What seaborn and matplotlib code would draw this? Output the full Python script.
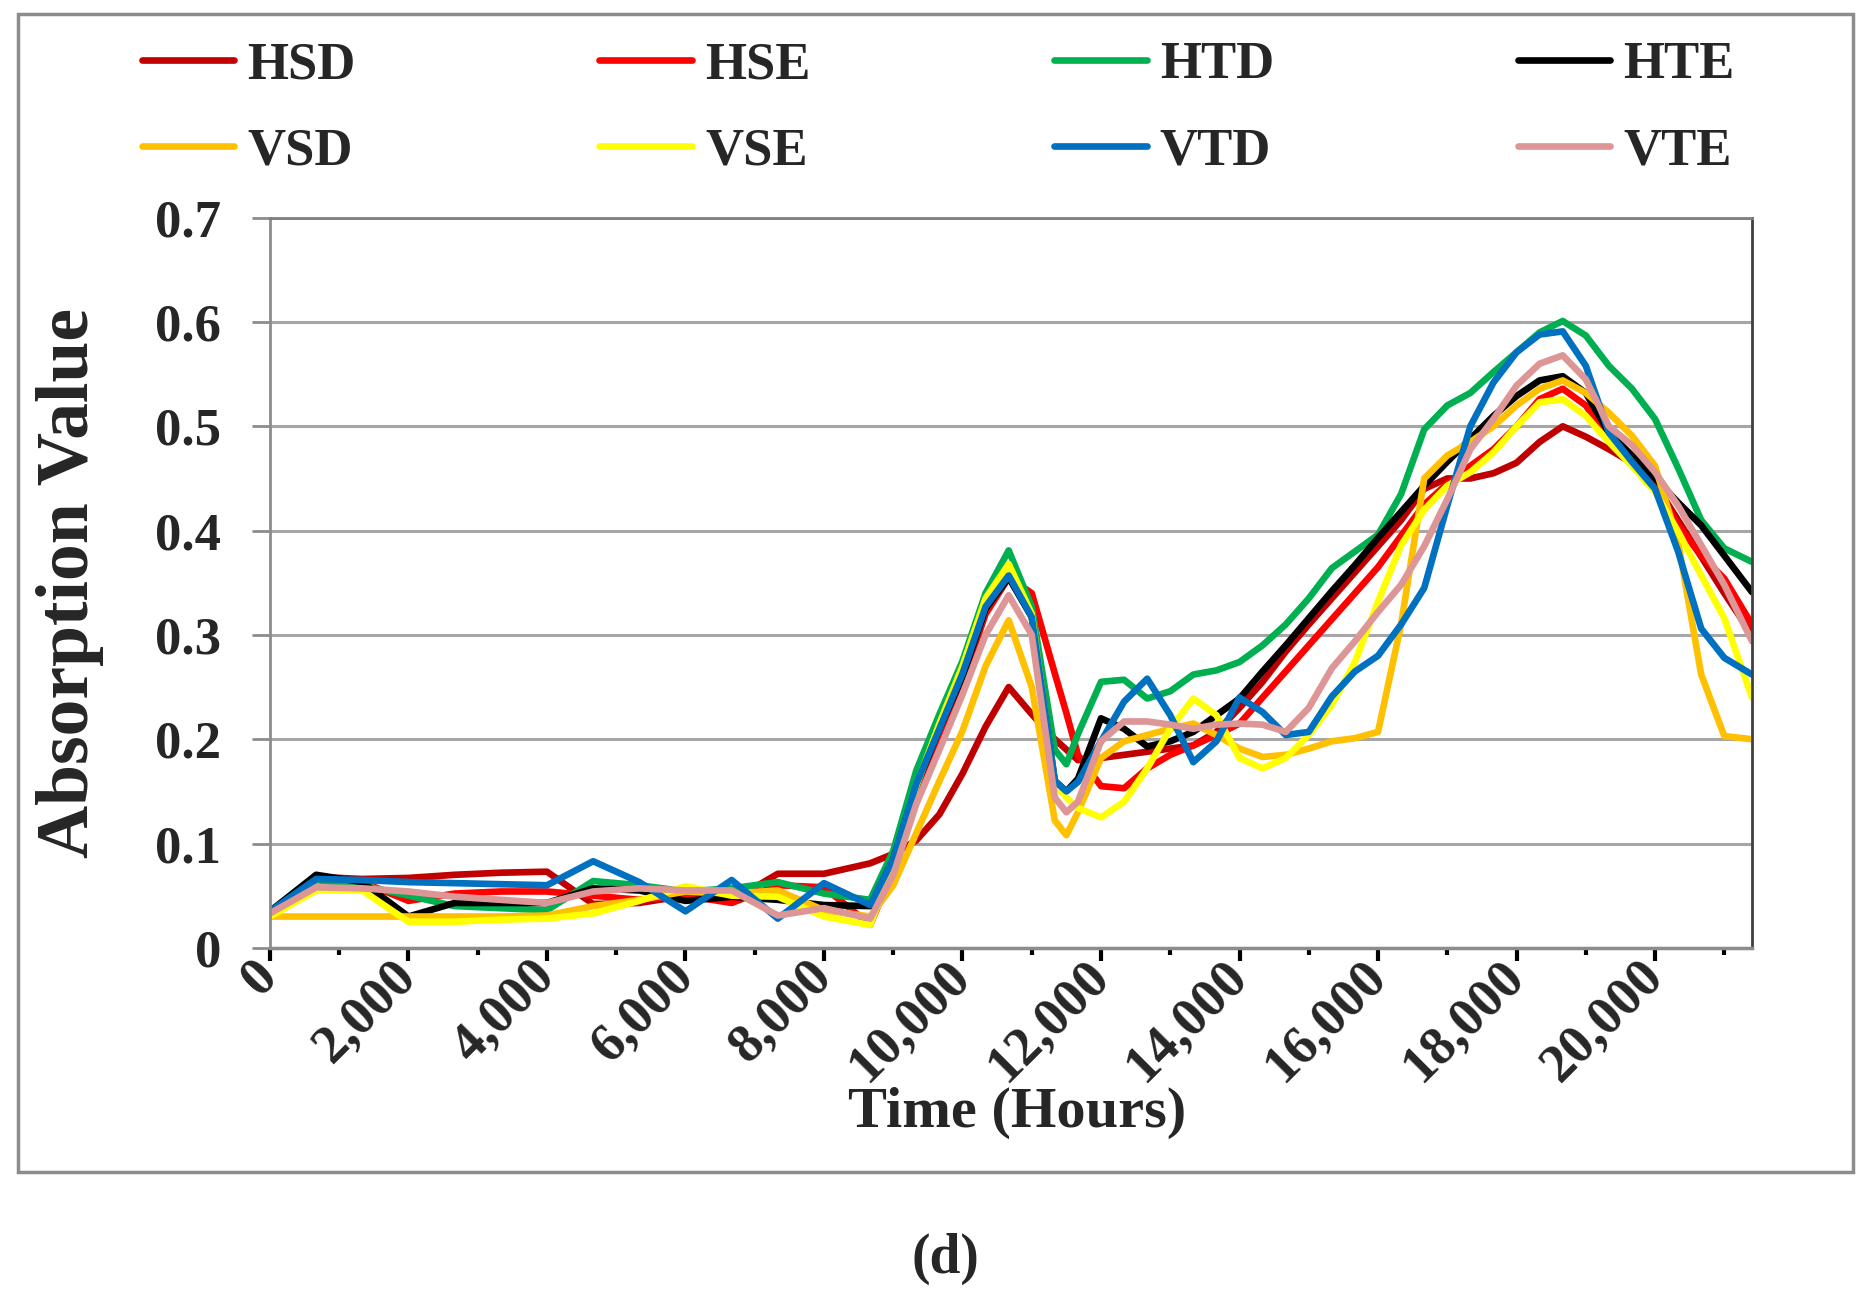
import pandas as pd
import numpy as np
import matplotlib.pyplot as plt
import matplotlib.ticker as mticker
from matplotlib.lines import Line2D
from matplotlib.patches import Rectangle
import seaborn as sns

# time points (hours)
hours = [0, 667, 1333, 2000, 2667, 3333, 4000, 4667, 5333, 6000, 6667, 7333, 8000, 8667,
         9000, 9333, 9667, 10000, 10333, 10667, 11000, 11333, 11500, 11667,
         12000, 12333, 12667, 13000, 13333, 13667, 14000, 14333, 14667, 15000, 15333, 15667,
         16000, 16333, 16667, 17000, 17333, 17667, 18000, 18333, 18667, 19000, 19333, 19667,
         20000, 20333, 20667, 21000, 21400]

hsd = [0.035, 0.068, 0.066, 0.067, 0.070, 0.072, 0.073, 0.042, 0.043, 0.050, 0.045, 0.071, 0.071, 0.081,
       0.090, 0.103, 0.128, 0.167, 0.212, 0.250, 0.224, 0.200, 0.190, 0.180,
       0.182, 0.185, 0.188, 0.191, 0.194, 0.207, 0.230, 0.255, 0.284, 0.310, 0.335, 0.360,
       0.385, 0.410, 0.440, 0.450, 0.450, 0.455, 0.465, 0.485, 0.500, 0.490, 0.478, 0.465,
       0.445, 0.410, 0.375, 0.340, 0.300]
hse = [0.035, 0.066, 0.063, 0.045, 0.052, 0.054, 0.054, 0.050, 0.046, 0.050, 0.043, 0.060, 0.058, 0.022,
       0.075, 0.145, 0.200, 0.255, 0.320, 0.355, 0.340, 0.263, 0.225, 0.185,
       0.155, 0.153, 0.172, 0.185, 0.194, 0.204, 0.215, 0.240, 0.265, 0.290, 0.315, 0.340,
       0.365, 0.395, 0.425, 0.445, 0.462, 0.478, 0.500, 0.526, 0.536, 0.520, 0.488, 0.469,
       0.443, 0.405, 0.376, 0.354, 0.310]
htd = [0.035, 0.065, 0.060, 0.050, 0.040, 0.038, 0.036, 0.064, 0.060, 0.054, 0.057, 0.063, 0.052, 0.046,
       0.093, 0.170, 0.224, 0.275, 0.340, 0.381, 0.327, 0.190, 0.176, 0.205,
       0.255, 0.257, 0.239, 0.246, 0.262, 0.266, 0.274, 0.290, 0.310, 0.335, 0.364, 0.380,
       0.396, 0.435, 0.497, 0.520, 0.532, 0.552, 0.571, 0.590, 0.601, 0.587, 0.558, 0.536,
       0.507, 0.460, 0.410, 0.383, 0.370]
hte = [0.035, 0.070, 0.063, 0.030, 0.043, 0.043, 0.043, 0.057, 0.055, 0.045, 0.049, 0.046, 0.041, 0.040,
       0.085, 0.155, 0.210, 0.260, 0.325, 0.355, 0.317, 0.160, 0.150, 0.162,
       0.220, 0.210, 0.193, 0.198, 0.207, 0.223, 0.239, 0.265, 0.290, 0.316, 0.342, 0.367,
       0.393, 0.418, 0.443, 0.466, 0.488, 0.510, 0.529, 0.544, 0.548, 0.532, 0.494, 0.472,
       0.450, 0.427, 0.405, 0.376, 0.341]
vsd = [0.030, 0.030, 0.030, 0.030, 0.030, 0.030, 0.031, 0.040, 0.046, 0.054, 0.052, 0.055, 0.036, 0.030,
       0.060, 0.110, 0.160, 0.208, 0.270, 0.314, 0.250, 0.122, 0.108, 0.130,
       0.182, 0.198, 0.204, 0.210, 0.215, 0.204, 0.191, 0.183, 0.185, 0.191, 0.198, 0.201,
       0.207, 0.310, 0.450, 0.472, 0.485, 0.500, 0.520, 0.536, 0.544, 0.532, 0.513, 0.491,
       0.462, 0.389, 0.262, 0.203, 0.200]
vse = [0.030, 0.055, 0.055, 0.025, 0.025, 0.027, 0.028, 0.033, 0.045, 0.059, 0.050, 0.049, 0.030, 0.022,
       0.080, 0.155, 0.215, 0.270, 0.335, 0.368, 0.320, 0.157, 0.144, 0.134,
       0.125, 0.140, 0.172, 0.210, 0.239, 0.223, 0.182, 0.172, 0.182, 0.204, 0.233, 0.274,
       0.332, 0.386, 0.420, 0.443, 0.456, 0.475, 0.500, 0.523, 0.526, 0.510, 0.485, 0.462,
       0.437, 0.399, 0.357, 0.316, 0.240]
vtd = [0.035, 0.066, 0.065, 0.063, 0.062, 0.061, 0.060, 0.083, 0.063, 0.035, 0.065, 0.028, 0.062, 0.041,
       0.085, 0.157, 0.210, 0.263, 0.327, 0.357, 0.317, 0.160, 0.150, 0.159,
       0.198, 0.236, 0.258, 0.223, 0.178, 0.198, 0.240, 0.226, 0.204, 0.207, 0.241, 0.265,
       0.280, 0.310, 0.345, 0.424, 0.500, 0.542, 0.571, 0.588, 0.591, 0.558, 0.494, 0.466,
       0.440, 0.380, 0.306, 0.278, 0.262]
vte = [0.033, 0.058, 0.057, 0.054, 0.049, 0.046, 0.043, 0.054, 0.057, 0.055, 0.055, 0.031, 0.038, 0.028,
       0.070, 0.138, 0.190, 0.243, 0.300, 0.338, 0.300, 0.144, 0.130, 0.140,
       0.198, 0.217, 0.217, 0.214, 0.210, 0.214, 0.215, 0.214, 0.207, 0.230, 0.268, 0.294,
       0.322, 0.348, 0.385, 0.430, 0.478, 0.507, 0.539, 0.560, 0.568, 0.545, 0.500, 0.482,
       0.456, 0.424, 0.386, 0.348, 0.294]

names = ["HSD", "HSE", "HTD", "HTE", "VSD", "VSE", "VTD", "VTE"]
colors = ["#C00000", "#FF0000", "#00B050", "#000000", "#FFC000", "#FFFF00", "#0070C0", "#DD9595"]
series = [hsd, hse, htd, hte, vsd, vse, vtd, vte]

frames = []
for name, vals in zip(names, series):
    frames.append(pd.DataFrame({"Time": hours, "Absorption": vals, "Series": name}))
df = pd.concat(frames, ignore_index=True)

sns.set_style("white")
plt.rcParams["font.family"] = ["Liberation Serif", "DejaVu Serif"]
plt.rcParams["font.weight"] = "bold"

fig = plt.figure(figsize=(18.76, 12.92), dpi=100)
ax = fig.add_axes([0.1439, 0.2664, 0.79, 0.5651])

sns.lineplot(data=df, x="Time", y="Absorption", hue="Series", hue_order=names,
             palette=dict(zip(names, colors)), linewidth=4.8, estimator=None,
             sort=False, ax=ax)
ax.get_legend().remove()
for ln in ax.get_lines():
    ln.set_solid_joinstyle("round")
    ln.set_solid_capstyle("round")

ax.set_xlim(0, 21400)
ax.set_ylim(0, 0.7)
ax.xaxis.set_major_locator(mticker.MultipleLocator(2000))
ax.xaxis.set_minor_locator(mticker.MultipleLocator(1000))
ax.xaxis.set_major_formatter(mticker.FuncFormatter(lambda v, p: f"{int(v):,}"))
ax.yaxis.set_major_locator(mticker.MultipleLocator(0.1))
ax.yaxis.set_major_formatter(mticker.FuncFormatter(lambda v, p: "0" if abs(v) < 1e-9 else f"{v:.1f}"))

ax.yaxis.grid(True, color="#a6a6a6", linewidth=2.2)
ax.xaxis.grid(False)
ax.set_axisbelow(True)

for side, col, lw in [("left", "#8c8c8c", 2), ("bottom", "#8c8c8c", 2.5),
                      ("top", "#7f7f7f", 2), ("right", "#404040", 2)]:
    ax.spines[side].set_visible(True)
    ax.spines[side].set_color(col)
    ax.spines[side].set_linewidth(lw)

ax.tick_params(axis="x", which="major", direction="out", length=9, width=3,
               color="black", pad=6, labelsize=39, bottom=True)
ax.tick_params(axis="x", which="minor", direction="out", length=5, width=3,
               color="black", bottom=True)
ax.tick_params(axis="y", which="major", direction="out", length=13, width=2,
               color="#8c8c8c", pad=22, labelsize=38, left=True)
for lab in ax.get_xticklabels():
    lab.set_rotation(45)
    lab.set_ha("right")
    lab.set_va("center")
    lab.set_rotation_mode("anchor")

ax.set_xlabel("Time (Hours)", fontsize=42, fontweight="bold")
ax.xaxis.set_label_coords(0.504, -0.19)
ax.set_ylabel("Absorption Value", fontsize=53, fontweight="bold")
ax.yaxis.set_label_coords(-0.112, 0.5)

# legend: 2 rows x 4 columns, filled row by row
order = [0, 4, 1, 5, 2, 6, 3, 7]
handles = [Line2D([0], [0], color=colors[i], linewidth=4.8) for i in order]
labels = [names[i] for i in order]
fig.legend(handles, labels, loc="upper left", bbox_to_anchor=(0.0755, 0.968), ncol=4,
           frameon=False, fontsize=38, handlelength=1.75, handletextpad=0.25,
           columnspacing=4.62, labelspacing=0.72, borderpad=0, borderaxespad=0)

fig.patches.append(Rectangle((0.0096, 0.093), 0.9784, 0.896, transform=fig.transFigure,
                             fill=False, edgecolor="#8c8c8c", linewidth=2.5))

fig.text(0.504, 0.026, "(d)", ha="center", va="center", fontsize=40, fontweight="bold")

fig.savefig("out.png", dpi=100)
